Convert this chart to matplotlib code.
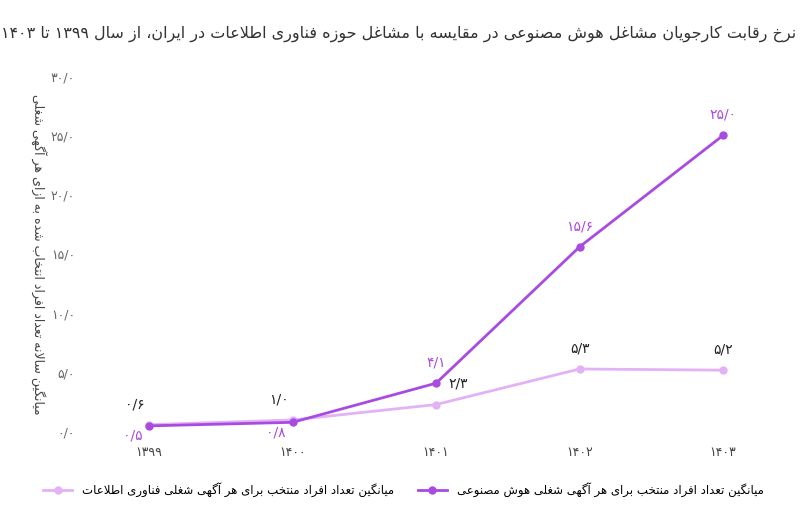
import unicodedata
import matplotlib
matplotlib.use("Agg")
import matplotlib.pyplot as plt

def _form(c, f):
    try:
        return unicodedata.lookup(unicodedata.name(c) + " " + f + " FORM")
    except Exception:
        return None

def _isar(c):
    try:
        return unicodedata.name(c).startswith("ARABIC LETTER")
    except Exception:
        return False

def _joins_next(c):
    return _isar(c) and (_form(c, "INITIAL") or _form(c, "MEDIAL")) is not None

def _joins_prev(c):
    return _isar(c) and (_form(c, "FINAL") or _form(c, "MEDIAL")) is not None

def shape(s):
    out = []
    n = len(s)
    i = 0
    while i < n:
        c = s[i]
        if not _isar(c):
            out.append(c); i += 1; continue
        prev = s[i-1] if i > 0 else ""
        jp = prev != "" and _joins_next(prev) and _joins_prev(c)
        if c == "\u0644" and i + 1 < n and s[i+1] in "\u0627\u0622":
            base = "ARABIC LIGATURE LAM WITH ALEF" + (" WITH MADDA ABOVE" if s[i+1] == "\u0622" else "")
            try:
                g = unicodedata.lookup(base + (" FINAL FORM" if jp else " ISOLATED FORM"))
                out.append(g); i += 2; continue
            except Exception:
                pass
        nxt = s[i+1] if i + 1 < n else ""
        jn = nxt != "" and _joins_next(c) and _joins_prev(nxt)
        if jp and jn: g = _form(c, "MEDIAL")
        elif jp: g = _form(c, "FINAL")
        elif jn: g = _form(c, "INITIAL")
        else: g = _form(c, "ISOLATED")
        out.append(g or c); i += 1
    s2 = "".join(out)
    runs, cur, curd = [], "", None
    for ch in s2:
        d = ("\u06f0" <= ch <= "\u06f9") or ch.isdigit() or (ch == "/" and curd)
        if curd is None or d == curd:
            cur += ch
        else:
            runs.append((cur, curd)); cur = ch
        curd = d
    if cur: runs.append((cur, curd))
    return "".join(r if d else r[::-1] for r, d in reversed(runs))

def fa(x):
    t = "%.1f" % x
    return t.translate(str.maketrans("0123456789.", "۰۱۲۳۴۵۶۷۸۹/"))

years = ["۱۳۹۹", "۱۴۰۰", "۱۴۰۱", "۱۴۰۲", "۱۴۰۳"]
ai_vals = [0.5, 0.8, 4.1, 15.6, 25.0]
it_vals = [0.6, 1.0, 2.3, 5.3, 5.2]
yticks = [0, 5, 10, 15, 20, 25, 30]

title = "نرخ رقابت کارجویان مشاغل هوش مصنوعی در مقایسه با مشاغل حوزه فناوری اطلاعات در ایران، از سال ۱۳۹۹ تا ۱۴۰۳"
ylabel = "میانگین سالانه تعداد افراد انتخاب شده به ازای هر آگهی شغلی"
lab_ai = "میانگین تعداد افراد منتخب برای هر آگهی شغلی هوش مصنوعی"
lab_it = "میانگین تعداد افراد منتخب برای هر آگهی شغلی فناوری اطلاعات"

plt.rcParams["font.family"] = ["DejaVu Sans"]
purple = "#a94ae0"
light = "#e2b2f6"
fig = plt.figure(figsize=(8.08, 5.08), dpi=100)
ax = fig.add_axes([0.11, 0.15, 0.87, 0.70])
x = list(range(len(years)))
ax.plot(x, it_vals, color=light, lw=2, marker="o", ms=5, label=shape(lab_it))
ax.plot(x, ai_vals, color=purple, lw=2, marker="o", ms=5, label=shape(lab_ai))
ax.set_xlim(-0.42, 4.48)
ax.set_ylim(0, 30)
ax.set_yticks(yticks)
ax.set_yticklabels([fa(v) for v in yticks], color="#666", fontsize=9)
ax.set_xticks(x)
ax.set_xticklabels(years, color="#444", fontsize=9)
for s in ax.spines.values():
    s.set_visible(False)
ax.tick_params(length=0, pad=10)
for i, v in enumerate(ai_vals):
    if i < 2:
        ax.annotate(fa(v), (i, v), xytext=(-12, -10), textcoords="offset points", ha="center", color=purple, fontsize=10)
    else:
        ax.annotate(fa(v), (i, v), xytext=(0, 12), textcoords="offset points", ha="center", color=purple, fontsize=10)
for i, v in enumerate(it_vals):
    if i == 2:
        ax.annotate(fa(v), (i, v), xytext=(16, 12), textcoords="offset points", ha="center", color="#222", fontsize=10)
    else:
        ax.annotate(fa(v), (i, v), xytext=(-10 if i < 2 else 0, 12), textcoords="offset points", ha="center", color="#222", fontsize=10)
ax.set_ylabel(shape(ylabel), fontsize=9, color="#444", labelpad=14, rotation=270, va="bottom")
fig.text(0.985, 0.925, shape(title), ha="right", fontsize=11.5, color="#333")
fig.legend(loc="lower left", bbox_to_anchor=(0.04, 0.0), ncol=2, frameon=False, markerfirst=True, fontsize=8.5, handlelength=2.5)
fig.savefig("out.png", dpi=100)
